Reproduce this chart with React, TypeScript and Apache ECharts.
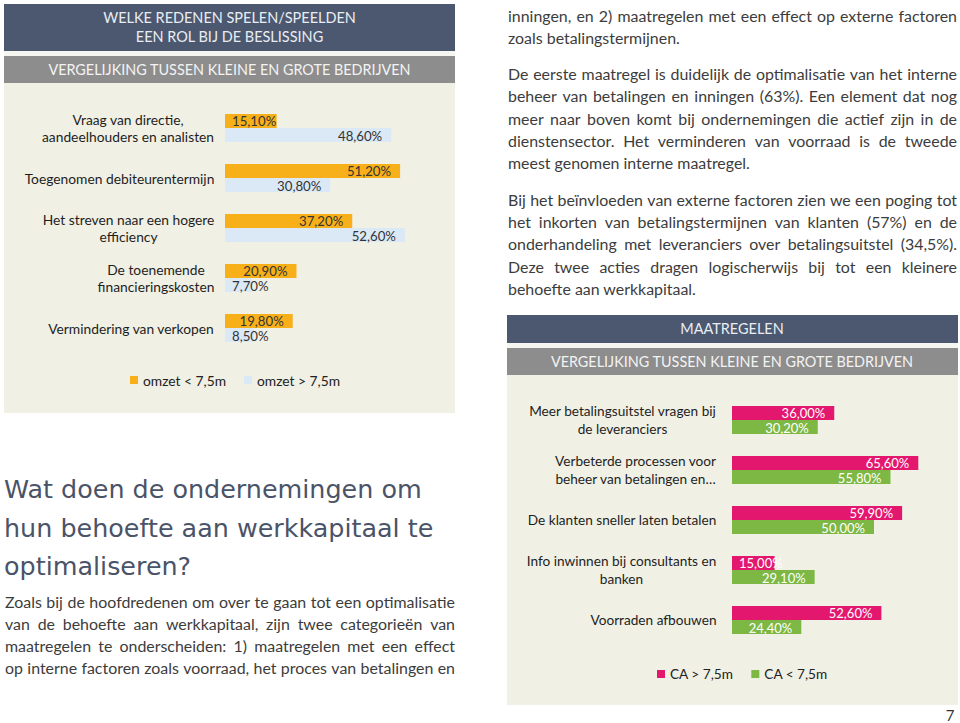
import React, { useEffect, useRef } from "react";
import * as echarts from "echarts";

// ---- Data ----
const reasonCategories = [
  "Vraag van directie,\naandeelhouders en analisten",
  "Toegenomen debiteurentermijn",
  "Het streven naar een hogere\nefficiency",
  "De toenemende\nfinancieringskosten",
  "Vermindering van verkopen",
];
const reasonSmallFirms = [15.1, 51.2, 37.2, 20.9, 19.8]; // omzet < 7,5m
const reasonLargeFirms = [48.6, 30.8, 52.6, 7.7, 8.5]; // omzet > 7,5m
const reasonLegend = ["omzet < 7,5m", "omzet > 7,5m"];

const measureCategories = [
  "Meer betalingsuitstel vragen bij\nde leveranciers",
  "Verbeterde processen voor\nbeheer van betalingen en…",
  "De klanten sneller laten betalen",
  "Info inwinnen bij consultants en\nbanken",
  "Voorraden afbouwen",
];
const measureLargeFirms = [36.0, 65.6, 59.9, 15.0, 52.6]; // CA > 7,5m
const measureSmallFirms = [30.2, 55.8, 50.0, 29.1, 24.4]; // CA < 7,5m
const measureLegend = ["CA > 7,5m", "CA < 7,5m"];

// ---- Texts ----
const leftTitleLines = ["WELKE REDENEN SPELEN/SPEELDEN", "EEN ROL BIJ DE BESLISSING"];
const subTitle = "VERGELIJKING TUSSEN KLEINE EN GROTE BEDRIJVEN";
const rightTitle = "MAATREGELEN";
const headingLines = ["Wat doen de ondernemingen om", "hun behoefte aan werkkapitaal te", "optimaliseren?"];
const leftParagraphs = [
  [
    "Zoals bij de hoofdredenen om over te gaan tot een optimalisatie",
    "van de behoefte aan werkkapitaal, zijn twee categorieën van",
    "maatregelen te onderscheiden: 1) maatregelen met een effect",
    "op interne factoren zoals voorraad, het proces van betalingen en",
  ],
];
const rightParagraphs = [
  ["inningen, en 2) maatregelen met een effect op externe factoren", "zoals betalingstermijnen."],
  [
    "De eerste maatregel is duidelijk de optimalisatie van het interne",
    "beheer van betalingen en inningen (63%). Een element dat nog",
    "meer naar boven komt bij ondernemingen die actief zijn in de",
    "dienstensector. Het verminderen van voorraad is de tweede",
    "meest genomen interne maatregel.",
  ],
  [
    "Bij het beïnvloeden van externe factoren zien we een poging tot",
    "het inkorten van betalingstermijnen van klanten (57%) en de",
    "onderhandeling met leveranciers over betalingsuitstel (34,5%).",
    "Deze twee acties dragen logischerwijs bij tot een kleinere",
    "behoefte aan werkkapitaal.",
  ],
];
const pageNumber = "7";

const PANEL = "#f0f0e5";
const DARK = "#4b5870";
const GREY = "#8d8d8d";
const ORANGE = "#f8b01a";
const LIGHTBLUE = "#dbe8f5";
const PINK = "#e4176f";
const GREEN = "#7cb843";
const BODY = "#3c3c3c";
const HEAD = "#4a5367";

export default function App() {
  const ref = useRef<HTMLDivElement>(null);
  useEffect(() => {
    const el = ref.current!;
    const chart = echarts.init(el, undefined, { renderer: "svg" });
    const canvas = document.createElement("canvas");
    const ctx = canvas.getContext("2d")!;
    const measure = (t: string, size: number, fam: string) => {
      ctx.font = `${size}px "${fam}"`;
      return ctx.measureText(t).width;
    };
    const fit = (t: string, fam: string, target: number) => (20 * target) / measure(t, 20, fam);

    const CF = "Lato";
    const leftSize = fit("Toegenomen debiteurentermijn", CF, 190);
    const rightSize = fit("De klanten sneller laten betalen", CF, 189);
    const bodyFam = "Lato";
    const bodySize = fit("meest genomen interne maatregel.", bodyFam, 242);
    const headFam = "DejaVu Sans";
    const headSize = fit(headingLines[0], headFam, 418);
    const bandFam = "Lato";
    const titleSize = fit(leftTitleLines[0], bandFam, 253);
    const subSize = fit(subTitle, bandFam, 363);

    const fmt = (v: number) => v.toFixed(2).replace(".", ",") + "%";

    const richFor = (cats: string[], size: number, lh: number) => {
      const rich: any = {};
      cats.forEach((c, i) => {
        const w = Math.max(...c.split("\n").map((l) => measure(l, size, CF)));
        rich["c" + i] = {
          width: Math.ceil(w) + 1,
          align: "center",
          fontSize: size,
          fontFamily: CF,
          color: "#1e1e1e",
          lineHeight: lh,
        };
      });
      return rich;
    };
    const catFormatter = (val: string, idx: number) =>
      val
        .split("\n")
        .map((l) => `{c${idx}|${l}}`)
        .join("\n");

    const barSeries = (
      name: string,
      values: number[],
      color: string,
      idx: number,
      labelColor: string,
      size: number,
      dy: number
    ) => ({
      type: "bar",
      name,
      xAxisIndex: idx,
      yAxisIndex: idx,
      barWidth: 14,
      barGap: "0%",
      z: 10,
      itemStyle: { color },
      label: {
        show: true,
        position: "insideRight",
        distance: 9,
        offset: [0, dy],
        formatter: (p: any) => fmt(p.value),
        color: labelColor,
        fontSize: size - 0.6,
        fontFamily: CF,
        lineHeight: 12,
      },
      data: values.map((v) =>
        v < 17 ? { value: v, label: { position: "insideLeft", distance: 7 } } : v
      ),
    });

    // graphic elements
    const g: any[] = [];
    const rect = (x: number, y: number, w: number, h: number, fill: string) =>
      g.push({ type: "rect", z: 0, silent: true, shape: { x, y, width: w, height: h }, style: { fill } });
    const text = (
      t: string,
      x: number,
      y: number,
      size: number,
      fam: string,
      fill: string,
      align = "left"
    ) =>
      g.push({
        type: "text",
        z: 1,
        silent: true,
        x,
        y,
        style: {
          text: t,
          fontSize: size,
          fontFamily: fam,
          fill,
          align,
          verticalAlign: "middle",
          textAlign: align,
          textVerticalAlign: "middle",
        },
      });

    // Left panel
    rect(4, 4, 451, 409, "#f6f6f0");
    rect(4, 82, 451, 331, PANEL);
    rect(4, 4, 451, 47, DARK);
    rect(4, 56, 451, 27, GREY);
    text(leftTitleLines[0], 229.5, 17.5, titleSize, bandFam, "#e9edf3", "center");
    text(leftTitleLines[1], 229.5, 36.5, titleSize, bandFam, "#e9edf3", "center");
    text(subTitle, 229.5, 69.5, subSize, bandFam, "#f3f3f3", "center");

    // Right panel
    rect(507, 315, 451, 390, "#f6f6f0");
    rect(507, 375, 451, 330, PANEL);
    rect(507, 315, 451, 28, DARK);
    rect(507, 348, 451, 27, GREY);
    text(rightTitle, 732, 328.5, titleSize, bandFam, "#e9edf3", "center");
    text(subTitle, 732, 361, subSize, bandFam, "#f3f3f3", "center");

    // Heading
    const headY = [489, 527.5, 566];
    headingLines.forEach((l, i) => text(l, 4, headY[i], headSize, headFam, HEAD));

    // justified paragraphs
    const para = (paras: string[][], x: number, width: number, ys: number[]) => {
      let k = 0;
      paras.forEach((lines) => {
        lines.forEach((line, li) => {
          const y = ys[k++];
          const last = li === lines.length - 1 && paras !== leftParagraphs;
          if (last) {
            text(line, x, y, bodySize, bodyFam, BODY);
            return;
          }
          const words = line.split(" ");
          const ws = words.map((w) => measure(w, bodySize, bodyFam));
          const total = ws.reduce((a, b) => a + b, 0);
          const gap = (width - total) / (words.length - 1);
          let cx = x;
          words.forEach((w, wi) => {
            text(w, cx, y, bodySize, bodyFam, BODY);
            cx += ws[wi] + gap;
          });
        });
      });
    };
    para(leftParagraphs, 5, 450, [601, 623, 645.5, 667.5]);
    para(rightParagraphs, 508, 449, [15, 37, 73, 95.5, 118, 140, 162, 199, 221, 243.5, 266, 288]);

    text(pageNumber, 950, 715, 15, "Lato", "#333", "center");

    const option: any = {
      animation: false,
      textStyle: { fontFamily: CF },
      graphic: { elements: g },
      grid: [
        { left: 225, top: 103, width: 60 * 3.42, height: 250 },
        { left: 732, top: 395, width: 80 * 2.84, height: 250 },
      ],
      xAxis: [
        { type: "value", gridIndex: 0, min: 0, max: 60, show: false },
        { type: "value", gridIndex: 1, min: 0, max: 80, show: false },
      ],
      yAxis: [
        {
          type: "category",
          gridIndex: 0,
          data: reasonCategories,
          inverse: true,
          z: 10,
          axisLine: { show: false },
          axisTick: { show: false },
          splitLine: { show: false },
          axisLabel: { margin: 10, formatter: catFormatter, rich: richFor(reasonCategories, leftSize, 16.7) },
        },
        {
          type: "category",
          gridIndex: 1,
          data: measureCategories,
          inverse: true,
          z: 10,
          axisLine: { show: false },
          axisTick: { show: false },
          splitLine: { show: false },
          axisLabel: { margin: 15, formatter: catFormatter, rich: richFor(measureCategories, rightSize, 18) },
        },
      ],
      legend: [
        {
          data: reasonLegend,
          left: 130,
          top: 373,
          padding: 0,
          itemWidth: 8,
          itemHeight: 8,
          itemGap: 18,
          icon: "rect",
          selectedMode: false,
          z: 10,
          textStyle: { fontSize: leftSize, fontFamily: CF, color: "#222" },
        },
        {
          data: measureLegend,
          left: 657,
          top: 667,
          padding: 0,
          itemWidth: 8,
          itemHeight: 8,
          itemGap: 18,
          icon: "rect",
          selectedMode: false,
          z: 10,
          textStyle: { fontSize: rightSize, fontFamily: CF, color: "#222" },
        },
      ],
      series: [
        barSeries(reasonLegend[0], reasonSmallFirms, ORANGE, 0, "#333", leftSize, -0.5),
        barSeries(reasonLegend[1], reasonLargeFirms, LIGHTBLUE, 0, "#333", leftSize, 0.5),
        barSeries(measureLegend[0], measureLargeFirms, PINK, 1, "#ffffff", rightSize, -0.5),
        barSeries(measureLegend[1], measureSmallFirms, GREEN, 1, "#ffffff", rightSize, 0.5),
      ],
    };
    chart.setOption(option);
    return () => chart.dispose();
  }, []);
  return (
    <div
      ref={ref}
      style={{ position: "fixed", left: 0, top: 0, width: 960, height: 723, background: "#fff" }}
    />
  );
}
